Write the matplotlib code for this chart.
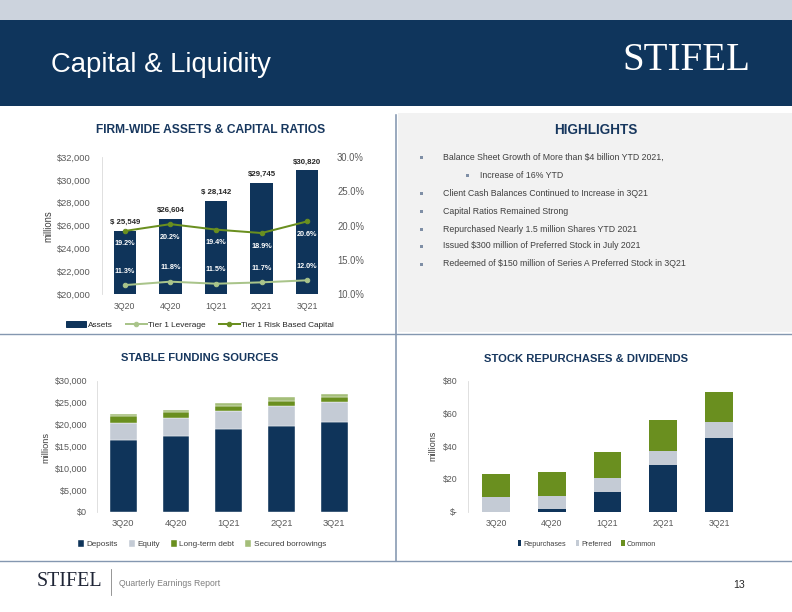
import matplotlib
matplotlib.use("Agg")
import matplotlib.pyplot as plt
import numpy as np
from matplotlib.patches import Rectangle, Patch
from matplotlib.lines import Line2D

plt.rcParams['font.family'] = ['Liberation Sans', 'DejaVu Sans']

# ---------------- data ----------------
quarters = ['3Q20', '4Q20', '1Q21', '2Q21', '3Q21']

assets = [25549, 26604, 28142, 29745, 30820]
asset_labels = ['$ 25,549', '$26,604', '$ 28,142', '$29,745', '$30,820']
tier1_leverage = [11.3, 11.8, 11.5, 11.7, 12.0]
tier1_risk = [19.2, 20.2, 19.4, 18.9, 20.6]

deposits = [16300, 17300, 18800, 19600, 20400]
equity = [4000, 4100, 4200, 4500, 4700]
lt_debt = [1500, 1300, 1100, 1200, 1100]
secured = [600, 500, 700, 900, 600]

repurchases = [0.0, 1.6, 12.2, 28.4, 45.0]
preferred = [9.1, 7.9, 8.5, 8.5, 9.5]
common = [13.8, 14.6, 16.0, 19.0, 18.6]

highlights = [
    (0, 'Balance Sheet Growth of More than $4 billion YTD 2021,'),
    (1, 'Increase of 16% YTD'),
    (0, 'Client Cash Balances Continued to Increase in 3Q21'),
    (0, 'Capital Ratios Remained Strong'),
    (0, 'Repurchased Nearly 1.5 million Shares YTD 2021'),
    (0, 'Issued $300 million of Preferred Stock in July 2021'),
    (0, 'Redeemed of $150 million of Series A Preferred Stock in 3Q21'),
]

# ---------------- colours ----------------
NAVY = '#0F345A'
HEADER = '#0F355C'
GREY_BAR = '#C4CBD5'
DK_GREEN = '#6A8F1F'
LT_GREEN = '#A4BE79'
LEV_GREEN = '#A9C48A'
TICK = '#595959'
TITLE = '#17375E'
DIVIDER = '#8497B0'
SERIF = ['Liberation Serif', 'DejaVu Serif']

W, H = 792, 612
fig = plt.figure(figsize=(W / 72, H / 72), dpi=72)

bg = fig.add_axes([0, 0, 1, 1], zorder=0)
bg.set_xlim(0, W)
bg.set_ylim(H, 0)
bg.axis('off')


def px_axes(left, top, right, bottom):
    return fig.add_axes([left / W, 1 - bottom / H, (right - left) / W, (bottom - top) / H], zorder=2)


# header
bg.add_patch(Rectangle((0, 0), W, 20, color='#CCD3DD', lw=0))
bg.add_patch(Rectangle((0, 20), W, 86, color=HEADER, lw=0))
bg.text(51, 65, 'Capital & Liquidity', color='white', fontsize=27.5, va='center', ha='left')
bg.text(750, 60, 'STIFEL', color='white', fontsize=39, family=SERIF, va='center', ha='right')

# highlights panel
bg.add_patch(Rectangle((398, 113), W - 398, 219, color='#F2F2F2', lw=0))
bg.text(596, 130, 'HIGHLIGHTS', color=TITLE, fontsize=13.5, fontweight='bold', ha='center', va='center')
ys = [157, 175, 193, 211, 229, 246, 264]
for (lvl, txt), y in zip(highlights, ys):
    bx = 421 if lvl == 0 else 467
    tx = 443 if lvl == 0 else 480
    bg.add_patch(Rectangle((bx - 1.5, y - 1.5), 3, 3, color='#7F8FA6', lw=0))
    bg.text(tx, y, txt, color='#404040', fontsize=8.8, va='center', ha='left')

# dividers
bg.plot([396, 396], [115, 561], color=DIVIDER, lw=1.6)
bg.plot([0, W], [333.5, 333.5], color=DIVIDER, lw=1.4)
bg.plot([0, W], [560.5, 560.5], color=DIVIDER, lw=1.4)

# footer
bg.text(37, 582, 'STIFEL', color='#1F2536', fontsize=20, family=SERIF, va='center', ha='left')
bg.plot([111, 111], [569, 595], color='#7F7F7F', lw=0.8)
bg.text(119, 583, 'Quarterly Earnings Report', color='#7F7F7F', fontsize=8.6, va='center')
bg.text(745, 585, '13', color='#262626', fontsize=10.5, va='center', ha='right')


def style(ax):
    for s in ['top', 'right', 'bottom']:
        ax.spines[s].set_visible(False)
    ax.spines['left'].set_color('#D9D9D9')
    ax.tick_params(length=0, colors=TICK)


x = np.arange(len(quarters))

# ---------------- firm-wide assets ----------------
ax1 = px_axes(102, 157, 330, 294)
ax1.bar(x, assets, width=0.49, color=NAVY, zorder=2)
ax1.set_xlim(-0.5, 4.5)
ax1.set_ylim(20000, 32000)
ax1.set_yticks(range(20000, 32001, 2000))
ax1.set_yticklabels(['${:,}'.format(v) for v in range(20000, 32001, 2000)], fontsize=9.3)
ax1.set_xticks(x)
ax1.set_xticklabels(quarters, fontsize=8.8)
style(ax1)
ax1.tick_params(axis='y', pad=11)
ax1.tick_params(axis='x', pad=8)
for i, v in enumerate(assets):
    ax1.annotate(asset_labels[i], (i, v), xytext=(0, 5), textcoords='offset points',
                 ha='center', va='bottom', fontsize=7.8, fontweight='bold', color='#262626')

ax2 = ax1.twinx()
ax2.set_zorder(3)
ax2.set_ylim(10, 30)
ax2.set_yticks([10, 15, 20, 25, 30])
ax2.set_yticklabels(['{:.1f}%'.format(v) for v in [10, 15, 20, 25, 30]], fontsize=9.5)
for s in ax2.spines.values():
    s.set_visible(False)
ax2.tick_params(length=0, colors=TICK, pad=7)
ax2.plot(x, tier1_leverage, color=LEV_GREEN, lw=2, marker='o', ms=4.5)
ax2.plot(x, tier1_risk, color=DK_GREEN, lw=2, marker='o', ms=4.5)
for i in range(5):
    ax2.annotate('{:.1f}%'.format(tier1_risk[i]), (i, tier1_risk[i]), xytext=(0, -13),
                 textcoords='offset points', ha='center', va='center', fontsize=7.3,
                 fontweight='bold', color='white')
    ax2.annotate('{:.1f}%'.format(tier1_leverage[i]), (i, tier1_leverage[i]), xytext=(0, 14),
                 textcoords='offset points', ha='center', va='center', fontsize=7.3,
                 fontweight='bold', color='white')

bg.text(211, 130, 'FIRM-WIDE ASSETS & CAPITAL RATIOS', fontsize=12, fontweight='bold',
        color=TITLE, ha='center', va='center')
bg.text(48, 226, 'millions', rotation=90, fontsize=9.5, color='#404040', ha='center', va='center')
h1 = [Patch(color=NAVY),
      Line2D([], [], color=LEV_GREEN, lw=2, marker='o', ms=4.5),
      Line2D([], [], color=DK_GREEN, lw=2, marker='o', ms=4.5)]
ax1.legend(h1, ['Assets', 'Tier 1 Leverage', 'Tier 1 Risk Based Capital'], ncol=3, frameon=False,
           loc='center', bbox_to_anchor=(200 / W, 1 - 325 / H), bbox_transform=fig.transFigure,
           fontsize=8.2, handlelength=2.5, handletextpad=0.2, columnspacing=1.6, labelcolor='#262626')

# ---------------- stable funding ----------------
ax3 = px_axes(97, 380.5, 360.5, 511.7)
b = np.zeros(5)
for vals, col, lab in [(deposits, NAVY, 'Deposits'), (equity, GREY_BAR, 'Equity'),
                       (lt_debt, DK_GREEN, 'Long-term debt'), (secured, LT_GREEN, 'Secured borrowings')]:
    ax3.bar(x, vals, bottom=b, width=0.51, color=col, label=lab, edgecolor='white', linewidth=0.4)
    b += np.array(vals)
ax3.set_xlim(-0.5, 4.5)
ax3.set_ylim(0, 30000)
ax3.set_yticks(range(0, 30001, 5000))
ax3.set_yticklabels(['${:,}'.format(v) for v in range(0, 30001, 5000)], fontsize=9)
ax3.set_xticks(x)
ax3.set_xticklabels(quarters, fontsize=9.3)
style(ax3)
ax3.tick_params(axis='y', pad=10)
ax3.tick_params(axis='x', pad=7)
bg.text(200, 358, 'STABLE FUNDING SOURCES', fontsize=11.3, fontweight='bold',
        color=TITLE, ha='center', va='center')
bg.text(46, 447, 'millions', rotation=90, fontsize=9.3, color='#404040', ha='center', va='center')
ax3.legend(ncol=4, frameon=False, loc='center', bbox_to_anchor=(202 / W, 1 - 544 / H),
           bbox_transform=fig.transFigure, fontsize=8.1, handlelength=0.7, handleheight=0.9,
           handletextpad=0.3, columnspacing=1.4, labelcolor='#404040')

# ---------------- repurchases & dividends ----------------
ax4 = px_axes(468, 380.5, 747, 511.7)
b = np.zeros(5)
for vals, col, lab in [(repurchases, NAVY, 'Repurchases'), (preferred, GREY_BAR, 'Preferred'),
                       (common, DK_GREEN, 'Common')]:
    ax4.bar(x, vals, bottom=b, width=0.5, color=col, label=lab)
    b += np.array(vals)
ax4.set_xlim(-0.5, 4.5)
ax4.set_ylim(0, 80)
ax4.set_yticks([0, 20, 40, 60, 80])
ax4.set_yticklabels(['$-', '$20', '$40', '$60', '$80'], fontsize=8.8)
ax4.set_xticks(x)
ax4.set_xticklabels(quarters, fontsize=8.8)
style(ax4)
ax4.tick_params(axis='y', pad=10)
ax4.tick_params(axis='x', pad=7)
bg.text(586, 359, 'STOCK REPURCHASES & DIVIDENDS', fontsize=11.3, fontweight='bold',
        color=TITLE, ha='center', va='center')
bg.text(433, 446, 'millions', rotation=90, fontsize=9, color='#404040', ha='center', va='center')
ax4.legend(ncol=3, frameon=False, loc='center', bbox_to_anchor=(587 / W, 1 - 544 / H),
           bbox_transform=fig.transFigure, fontsize=7.2, handlelength=0.5, handleheight=0.7,
           handletextpad=0.3, columnspacing=1.3, labelcolor='#404040')

fig.savefig('out.png', dpi=72)
